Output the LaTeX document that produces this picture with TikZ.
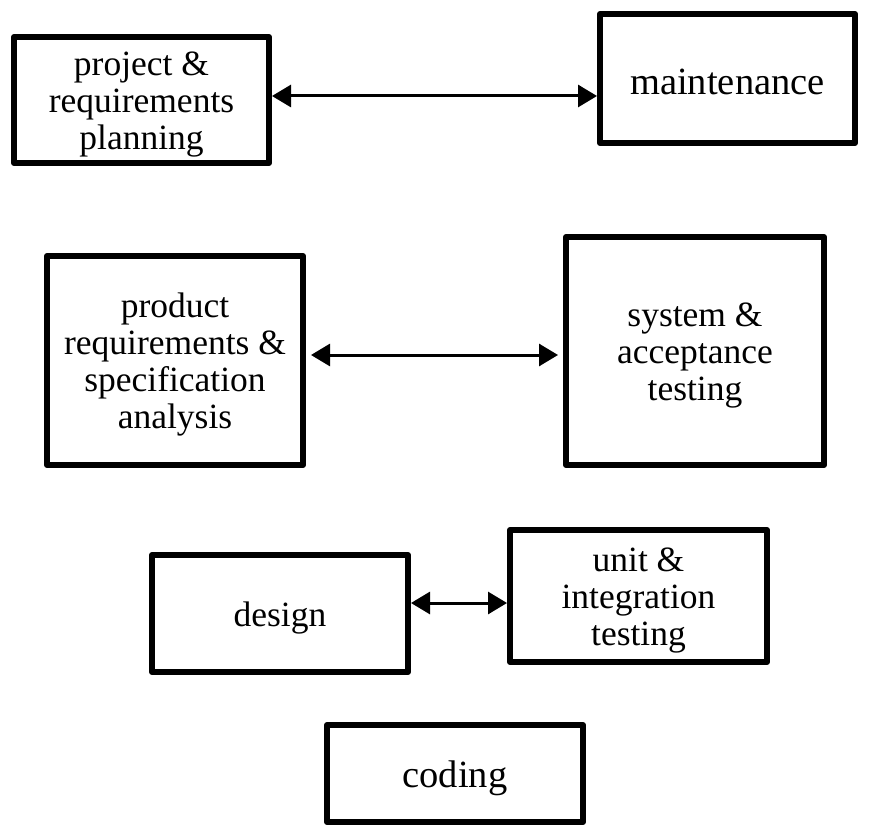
\documentclass[tikz,border=0pt]{standalone}
\usepackage{fontspec}
\setmainfont{Liberation Serif}
\usetikzlibrary{arrows.meta}
\tikzset{
  phase/.style={draw=black, line width=6pt, line join=round, inner sep=0pt},
  txt/.style={align=center, yshift=-4.5pt, inner sep=0pt, text=black,
    font=\fontsize{35.5}{37}\selectfont},
  bigtxt/.style={txt, font=\fontsize{38.5}{40}\selectfont},
  link/.style={line width=3pt, {Triangle[length=19pt,width=22pt]}-{Triangle[length=19pt,width=22pt]}},
}
\begin{document}
\begin{tikzpicture}[x=1pt,y=-1pt]
\useasboundingbox (0,0) rectangle (870,834);
\node[phase, minimum width=255pt, minimum height=126pt,
  label={[txt]center:{project \&\\requirements\\planning}}] (plan) at (141.5,100) {};
\node[phase, minimum width=255pt, minimum height=129pt,
  label={[bigtxt, yshift=1.5pt]center:{maintenance}}] (maint) at (727.5,78.5) {};
\node[phase, minimum width=256pt, minimum height=209pt,
  label={[txt]center:{product\\requirements \&\\specification\\analysis}}] (prod) at (175,360.5) {};
\node[phase, minimum width=258pt, minimum height=228pt,
  label={[txt]center:{system \&\\acceptance\\testing}}] (sys) at (695,351) {};
\node[phase, minimum width=256pt, minimum height=117pt,
  label={[txt]center:{design}}] (design) at (280,613.5) {};
\node[phase, minimum width=257pt, minimum height=132pt,
  label={[txt]center:{unit \&\\integration\\testing}}] (unit) at (638.5,596) {};
\node[phase, minimum width=256pt, minimum height=97pt,
  label={[bigtxt]center:{coding}}] (coding) at (455,773.5) {};
\draw[link] (plan.east |- 0,96) -- (maint.west |- 0,96);
\draw[link] ([xshift=5pt]prod.east |- 0,355) -- ([xshift=-5pt]sys.west |- 0,355);
\draw[link] (design.east |- 0,603) -- (unit.west |- 0,603);
\end{tikzpicture}
\end{document}
